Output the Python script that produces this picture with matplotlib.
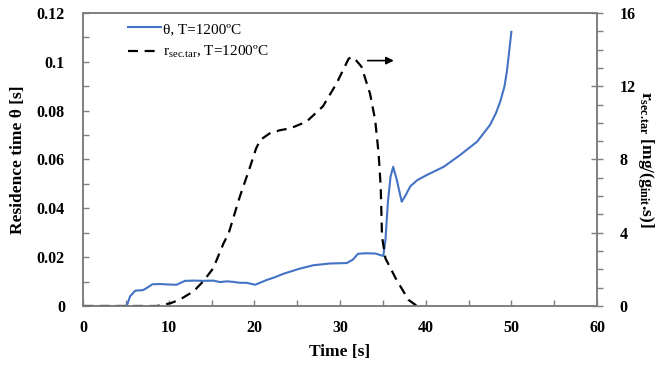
"""
Residence time theta and secondary tar rate vs time, T=1200 C
"""

import matplotlib
matplotlib.use('Agg')
import matplotlib.pyplot as plt
from matplotlib.ticker import MultipleLocator

# datos
t_theta = [0, 5.1, 5.5, 6.1, 7.0, 7.5, 8.1, 9, 10, 10.9, 11.9, 13, 14, 15.2, 16,
           16.8, 17.5, 18.3, 19.1, 20.1, 21.4, 22.4, 23.4, 24.3, 25.3, 26.9, 28.8,
           30.8, 31.5, 32.1, 33, 34.1, 35.05, 35.3, 35.6, 35.9, 36.2, 36.6, 37.2,
           37.6, 38.2, 39, 40.1, 42.1, 44.0, 46.0, 47.5, 48.2, 48.7, 49.2, 49.5, 50.0]
theta = [0, 0, 0.004, 0.0063, 0.0065, 0.0075, 0.0089, 0.009, 0.0088, 0.0087,
         0.0103, 0.0104, 0.0103, 0.0104, 0.0098, 0.0101, 0.0099, 0.0095, 0.0095,
         0.0087, 0.0106, 0.0118, 0.0132, 0.0142, 0.0153, 0.0167, 0.0174, 0.0176,
         0.019, 0.0214, 0.0216, 0.0215, 0.0205, 0.027, 0.043, 0.053, 0.057, 0.052,
         0.0427, 0.045, 0.049, 0.0515, 0.0536, 0.057, 0.0618, 0.0673, 0.0741,
         0.079, 0.0837, 0.09, 0.0966, 0.1123]

t_tar = [0, 8.6, 10.2, 11.3, 12.9, 14.0, 15.2, 16.4, 17.0, 18.3, 19.5, 20.2, 20.7,
         21.8, 23, 24.2, 26.1, 28.0, 29.6, 31.0, 31.4, 31.9, 32.5, 33.5, 34.1,
         34.5, 34.75, 34.9, 35.3, 36.6, 38.0, 38.9]
r_tar = [0, 0, 0.15, 0.35, 0.8, 1.33, 2.06, 3.42, 3.97, 5.97, 7.6, 8.6, 9.07,
         9.43, 9.6, 9.7, 10.07, 10.9, 12.16, 13.5, 13.6, 13.4, 13.07, 11.6, 10.16,
         8.34, 6.5, 3.8, 2.6, 1.42, 0.33, 0.03]

plt.rcParams['font.family'] = 'Liberation Serif'
plt.rcParams['mathtext.fontset'] = 'custom'
plt.rcParams['mathtext.rm'] = 'Liberation Serif'
plt.rcParams['mathtext.it'] = 'Liberation Serif:italic'
plt.rcParams['mathtext.bf'] = 'Liberation Serif:bold'

fig = plt.figure(figsize=(6.6, 3.71), dpi=100)
ax = fig.add_axes([0.1258, 0.1752, 0.7788, 0.7898])
ax2 = ax.twinx()

spine_col = '#7f7f7f'

l1, = ax.plot(t_theta, theta, color='#4472C4', lw=1.5,
              label='θ, T=1200ºC')
l2, = ax2.plot(t_tar, r_tar, color='black', lw=1.6, dashes=(4.5, 3),
               label=r'r$_{\rm sec.\!tar}$, T=1200ºC')

ax.set_xlim(0, 60)
ax.set_ylim(0, 0.12)
ax2.set_ylim(0, 16)

ax.xaxis.set_major_locator(MultipleLocator(10))
ax.xaxis.set_minor_locator(MultipleLocator(5))
ax.yaxis.set_major_locator(MultipleLocator(0.02))
ax.yaxis.set_minor_locator(MultipleLocator(0.01))
ax2.yaxis.set_major_locator(MultipleLocator(4))
ax2.yaxis.set_minor_locator(MultipleLocator(1))

ax.set_xticks([0, 10, 20, 30, 40, 50, 60])
ax.set_xticklabels(['0', '10', '20', '30', '40', '50', '60'])
ax.set_yticks([0, 0.02, 0.04, 0.06, 0.08, 0.1, 0.12])
ax.set_yticklabels(['0', '0.02', '0.04', '0.06', '0.08', '0.1', '0.12'])

for a in (ax, ax2):
    for s in a.spines.values():
        s.set_color(spine_col)
        s.set_linewidth(1.2)

ax.tick_params(axis='both', which='both', direction='in', color=spine_col,
               labelsize=11.5, width=1)
ax.tick_params(axis='x', which='major', length=4, pad=10)
ax.tick_params(axis='y', which='major', length=4, pad=13)
ax.tick_params(axis='both', which='minor', length=4)
ax2.tick_params(axis='y', which='major', direction='inout', length=8,
                color=spine_col, labelsize=11.5, width=1, pad=12)
ax2.tick_params(axis='y', which='minor', direction='out', length=4,
                color=spine_col, width=1)

for lab in ax.get_xticklabels() + ax.get_yticklabels() + ax2.get_yticklabels():
    lab.set_fontweight('bold')

ax.set_xlabel('Time [s]', fontsize=12.5, fontweight='bold', labelpad=6)
ax.set_ylabel('Residence time θ [s]', fontsize=12.5, fontweight='bold', labelpad=8)
ax2.set_ylabel(r'$\mathbf{r_{sec.\!tar}}$ [mg/(g$_{\mathbf{init}}$.s)]',
               fontsize=12.5, fontweight='bold', rotation=270, labelpad=15)

# flecha hacia el eje derecho
ax.annotate('', xy=(36.6, 0.1005), xytext=(32.9, 0.1005),
            arrowprops=dict(arrowstyle='-|>', color='black', lw=1.2,
                            mutation_scale=11))

ax.legend(handles=[l1, l2], loc='upper left', bbox_to_anchor=(0.075, 0.99),
          frameon=False, fontsize=11, handlelength=2.2, handletextpad=0.1,
          labelspacing=0.55, borderaxespad=0)

fig.savefig('out.png', dpi=100)
